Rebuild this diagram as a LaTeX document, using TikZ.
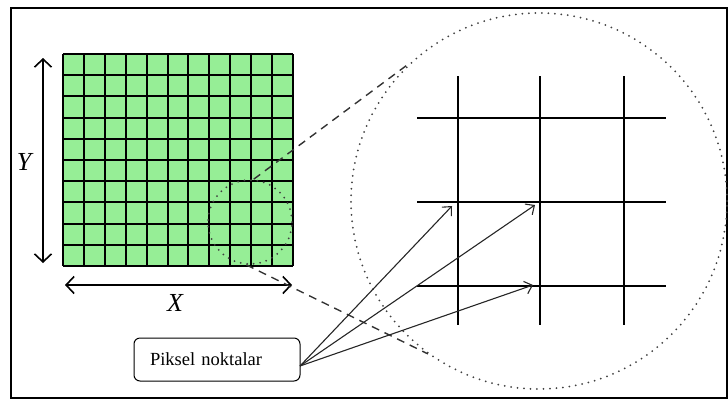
\documentclass[tikz,border=0pt]{standalone}
\usepackage{fontspec}
\setmainfont{Liberation Serif}
\usetikzlibrary{arrows.meta}
\definecolor{pixgreen}{RGB}{150,238,150}
\tikzset{
  gridline/.style={line width=2pt},
  bigline/.style={line width=2pt},
  axisarrow/.style={line width=1.6pt, {Straight Barb[length=8pt,width=17pt]}-{Straight Barb[length=8pt,width=17pt]}},
  pointer/.style={line width=1.1pt, black!85, -{Straight Barb[length=7pt,width=13pt]}},
  dotcircle/.style={draw=black!75, circle, inner sep=0pt, line width=2pt, line cap=round, dash pattern=on 0pt off 6.5pt},
  zoomline/.style={line width=1.4pt, black!80, dash pattern=on 8pt off 6pt},
  labelbox/.style={draw, line width=1pt, rounded corners=6pt, minimum height=43pt, text width=134pt, inner xsep=16pt, align=left, font=\fontsize{18.5}{22}\selectfont},
  axislabel/.style={font=\fontsize{26}{30}\selectfont\itshape}
}
\begin{document}
\begin{tikzpicture}[x=1pt,y=-1pt]
\useasboundingbox (0,0) rectangle (728,400);
\draw[line width=2.5pt] (11,8) rectangle (727,398);
% pixel grid
\fill[pixgreen] (63,54) rectangle (293,266);
\foreach \i in {0,...,11} \draw[gridline] ({63+\i*230/11},54) -- ({63+\i*230/11},266);
\foreach \j in {0,...,10} \draw[gridline] (63,{54+\j*21.2}) -- (293,{54+\j*21.2});
% axes
\coordinate (ytop) at (43,58);
\coordinate (ybot) at (43,263);
\coordinate (xleft) at (65,285);
\coordinate (xright) at (292,285);
\draw[axisarrow] (ytop) -- (ybot);
\draw[axisarrow] (xleft) -- (xright);
\node[axislabel] (ylab) at (24,162) {Y};
\node[axislabel] (xlab) at (175,303) {X};
% zoom circles
\node[dotcircle, minimum size=84pt] (zs) at (250,222) {};
\node[dotcircle, minimum size=376pt] (zb) at (539,201) {};
\draw[zoomline] (zs.85) -- (zb.133.5);
\draw[zoomline] (zs.265) -- (zb.234.5);
% zoomed pixels
\draw[bigline] (458,76) -- (458,325);
\draw[bigline] (540,76) -- (540,325);
\draw[bigline] (624,76) -- (624,325);
\draw[bigline] (417,118) -- (666,118);
\draw[bigline] (417,202) -- (666,202);
\draw[bigline] (417,286) -- (666,286);
\coordinate (p1) at (452,206);
\coordinate (p2) at (535,205);
\coordinate (p3) at (533,285);
% label
\node[labelbox] (pix) at (217,359.5) {Piksel noktalar};
\coordinate (src) at (300,366);
\draw[pointer] (src) -- (p1);
\draw[pointer] (src) -- (p2);
\draw[pointer] (src) -- (p3);
\end{tikzpicture}
\end{document}
